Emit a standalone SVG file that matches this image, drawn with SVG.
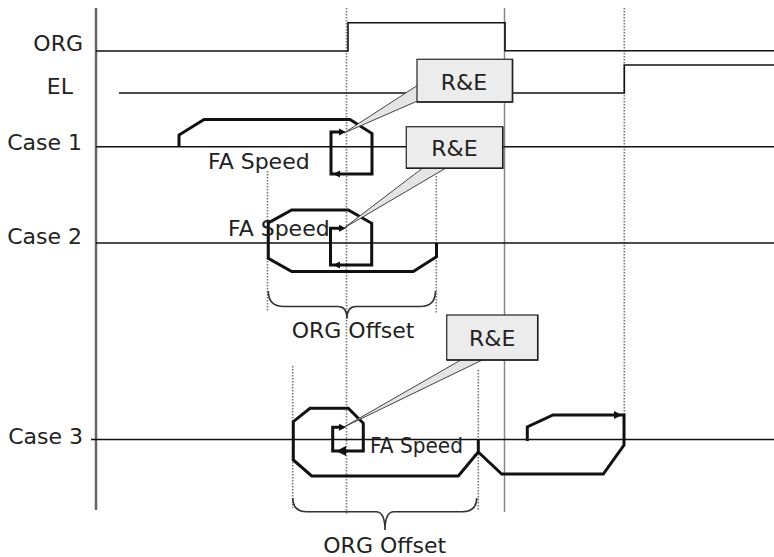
<svg xmlns="http://www.w3.org/2000/svg" width="774" height="557" viewBox="0 0 774 557">
<style>
.bg{fill:#fff}
.lbl{font-family:"DejaVu Sans",Verdana,sans-serif;font-size:22px;fill:#222}
.sig{fill:none;stroke:#111;stroke-width:1.6}
.prof{fill:none;stroke:#111;stroke-width:3;stroke-linejoin:miter}
.dot{fill:none;stroke:#777;stroke-width:1.6;stroke-dasharray:1.5 1.5}
.guide{fill:none;stroke:#888;stroke-width:1.5}
.axis{fill:none;stroke:#666;stroke-width:2.5}
.brace{fill:none;stroke:#333;stroke-width:1.6}
.box{fill:#ececec;stroke:#333;stroke-width:1.3}
.shadow{fill:none;stroke:#222;stroke-width:1.5}
.wedge{fill:#e4e4e4;stroke:#444;stroke-width:1}
.ah{fill:#111}
</style>
<rect class="bg" x="0" y="0" width="774" height="557"/>

<g id="axes">
  <path class="axis" d="M96,8 V510"/>
  <path class="guide" d="M504.5,8 V512"/>
  <path class="dot" d="M346.5,8 V514"/>
  <path class="dot" d="M624.3,8 V440"/>
  <path class="dot" d="M267.5,171 V311"/>
  <path class="dot" d="M436.3,176 V313"/>
  <path class="dot" d="M292.7,366 V508"/>
  <path class="dot" d="M478.3,370 V510"/>
</g>

<g id="labels">
  <text class="lbl" x="83" y="51" text-anchor="end">ORG</text>
  <text class="lbl" x="73" y="94" text-anchor="end">EL</text>
  <text class="lbl" x="82" y="150" text-anchor="end">Case 1</text>
  <text class="lbl" x="82" y="243.5" text-anchor="end">Case 2</text>
  <text class="lbl" x="83" y="444.3" text-anchor="end">Case 3</text>
</g>

<g id="signals">
  <path class="sig" d="M96,51 H348 V22.7 H505 V50.7 H774"/>
  <path class="sig" d="M119,93 H624.3 V65 H774"/>
  <path class="sig" d="M96,146.7 H774"/>
  <path class="sig" d="M96,243 H774"/>
  <path class="sig" d="M91,439.5 H774"/>
</g>

<g id="case1">
  <path class="prof" d="M179,147 V135 L204,119.5 H350 L372,133.5 V174 H331 V132 H342"/>
  <polygon class="ah" points="346,132 339,128.5 339,135.5"/>
  <polygon class="ah" points="333,174 340,170.5 340,177.5"/>
  <text class="lbl" x="208" y="169">FA Speed</text>
</g>

<g id="case2">
  <path class="prof" d="M436.5,243 V256.7 L413.3,271.5 H291.7 L268.3,258.3 V223 L291.7,210 H348.3 L371.7,223.3 V265 H330.5 V228.3 H342"/>
  <polygon class="ah" points="346,228.3 339,224.8 339,231.8"/>
  <polygon class="ah" points="333,265 340,261.5 340,268.5"/>
  <text class="lbl" x="228" y="236">FA Speed</text>
  <path class="brace" d="M268.3,291 Q268.3,306.5 284,306.5 H338 Q347,306.5 347,318.5 Q347,306.5 356,306.5 H420 Q435.5,306.5 435.5,291"/>
  <text class="lbl" x="291.7" y="338.3">ORG Offset</text>
</g>

<g id="case3">
  <path class="prof" d="M478.3,440 V452 L458.3,476 H311.7 L293.3,460 V421.7 L310,408.3 H348.3 L363.3,423.3 V451 H332.7 V427.3 H342"/>
  <polygon class="ah" points="346,427.3 339,423.8 339,430.8"/>
  <polygon class="ah" points="336,451 346,446 346,456"/>
  <path class="prof" d="M478.3,452 L501.7,474 H603.3 L624,445 V415 H553 L527.3,427 V441"/>
  <polygon class="ah" points="622,415 614,411 614,419"/>
  <text class="lbl" x="370" y="453.3" textLength="93" lengthAdjust="spacingAndGlyphs">FA Speed</text>
  <path class="brace" d="M292.7,498 Q292.7,511.7 307,511.7 H376 Q385,511.7 385,530 Q385,511.7 394,511.7 H462 Q476.7,511.7 476.7,498"/>
  <text class="lbl" x="323.3" y="553.3">ORG Offset</text>
</g>

<g id="callout1">
  <polygon class="wedge" points="418,85 422,99 344,133"/>
  <rect class="box" x="417" y="59.3" width="95.5" height="42.7"/>
  <path class="shadow" d="M512.5,59.3 V102 H417"/>
  <text class="lbl" x="464" y="89.5" text-anchor="middle">R&amp;E</text>
</g>

<g id="callout2">
  <polygon class="wedge" points="422.7,168 446,168 344,228"/>
  <rect class="box" x="406.3" y="126.7" width="96.4" height="41.6"/>
  <path class="shadow" d="M502.7,126.7 V168.3 H406.3"/>
  <text class="lbl" x="454.5" y="156" text-anchor="middle">R&amp;E</text>
</g>

<g id="callout3">
  <polygon class="wedge" points="461.7,359.5 483.3,359.5 344,427"/>
  <rect class="box" x="446.7" y="315" width="91" height="45"/>
  <path class="shadow" d="M537.7,315 V360 H446.7"/>
  <text class="lbl" x="492.2" y="346" text-anchor="middle">R&amp;E</text>
</g>
</svg>
